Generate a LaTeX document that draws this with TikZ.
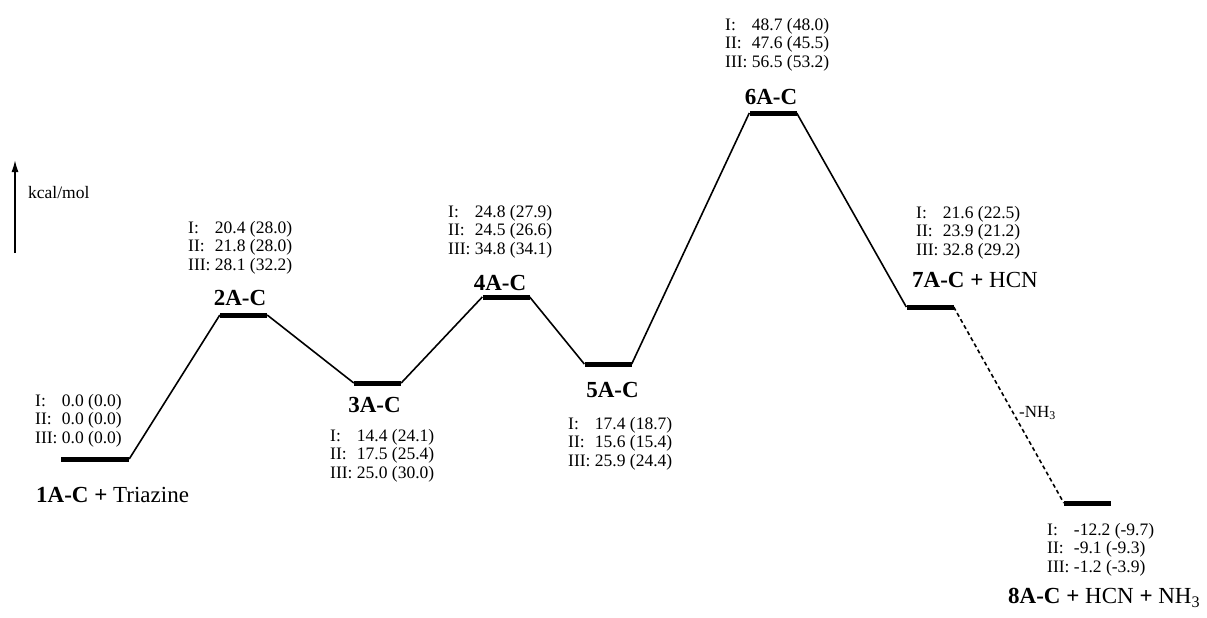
\documentclass[tikz,border=0pt]{standalone}
\usepackage{fontspec}
\setmainfont{Liberation Serif}
\usetikzlibrary{arrows.meta}
\newcommand{\eblock}[3]{\begin{tabular}{@{}l@{\ }l@{}}I: & #1\\II: & #2\\III: & #3\end{tabular}}
\begin{document}
\begin{tikzpicture}[
	x=1pt, y=-1pt,
	bar/.style={shape=rectangle, fill=black, draw=none, minimum height=5, minimum width=47, inner sep=0},
	conn/.style={line width=1.6pt},
	energy/.style={anchor=west, inner sep=0, font=\fontsize{17.5}{18.5}\selectfont},
	species/.style={inner sep=0, font=\fontsize{23}{25}\selectfont},
]
\useasboundingbox (0,0) rectangle (1207,618);

% axis
\coordinate (ax0) at (15,253);
\coordinate (ax1) at (15,160);
\draw[line width=1.6pt, -{Latex[length=12pt,width=7pt]}] (ax0) -- (ax1);
\node[anchor=west, inner sep=0, font=\fontsize{17.5}{18}\selectfont] (unit) at (28,193) {kcal/mol};

% levels
\node[bar, minimum width=68] (l1) at (95,459) {};
\node[bar] (l2) at (243.5,315) {};
\node[bar] (l3) at (377.5,383) {};
\node[bar] (l4) at (506,297) {};
\node[bar] (l5) at (608,364) {};
\node[bar] (l6) at (773,113) {};
\node[bar] (l7) at (930,307) {};
\node[bar] (l8) at (1087.5,503) {};

% connectors
\draw[conn] (l1.east) -- (l2.west);
\draw[conn] (l2.east) -- (l3.west);
\draw[conn] (l3.east) -- (l4.west);
\draw[conn] (l4.east) -- (l5.west);
\draw[conn] (l5.east) -- (l6.west);
\draw[conn] (l6.east) -- (l7.west);
\draw[conn, dash pattern=on 4pt off 3pt] (l7.east) -- (l8.west);
\node[anchor=west, inner sep=0, font=\fontsize{17}{18}\selectfont] (loss) at (1019,413) {-NH\textsubscript{3}};

% species
\node[species, anchor=west] (s1) at (36,495) {\textbf{1A-C +} Triazine};
\node[species] (s2) at (240,298) {\textbf{2A-C}};
\node[species] (s3) at (374.5,405) {\textbf{3A-C}};
\node[species] (s4) at (500,283) {\textbf{4A-C}};
\node[species] (s5) at (612.5,390) {\textbf{5A-C}};
\node[species] (s6) at (771,97) {\textbf{6A-C}};
\node[species, anchor=west] (s7) at (912,280) {\textbf{7A-C +} HCN};
\node[species, anchor=west] (s8) at (1008,598) {\textbf{8A-C +} HCN \textbf{+} NH\textsubscript{3}};

% energies
\node[energy] (e1) at (35,421) {\eblock{0.0 (0.0)}{0.0 (0.0)}{0.0 (0.0)}};
\node[energy] (e2) at (188,248) {\eblock{20.4 (28.0)}{21.8 (28.0)}{28.1 (32.2)}};
\node[energy] (e3) at (330,456) {\eblock{14.4 (24.1)}{17.5 (25.4)}{25.0 (30.0)}};
\node[energy] (e4) at (448,232) {\eblock{24.8 (27.9)}{24.5 (26.6)}{34.8 (34.1)}};
\node[energy] (e5) at (568,444) {\eblock{17.4 (18.7)}{15.6 (15.4)}{25.9 (24.4)}};
\node[energy] (e6) at (725,45) {\eblock{48.7 (48.0)}{47.6 (45.5)}{56.5 (53.2)}};
\node[energy] (e7) at (916,233) {\eblock{21.6 (22.5)}{23.9 (21.2)}{32.8 (29.2)}};
\node[energy] (e8) at (1047,550) {\eblock{-12.2 (-9.7)}{-9.1 (-9.3)}{-1.2 (-3.9)}};
\end{tikzpicture}
\end{document}
